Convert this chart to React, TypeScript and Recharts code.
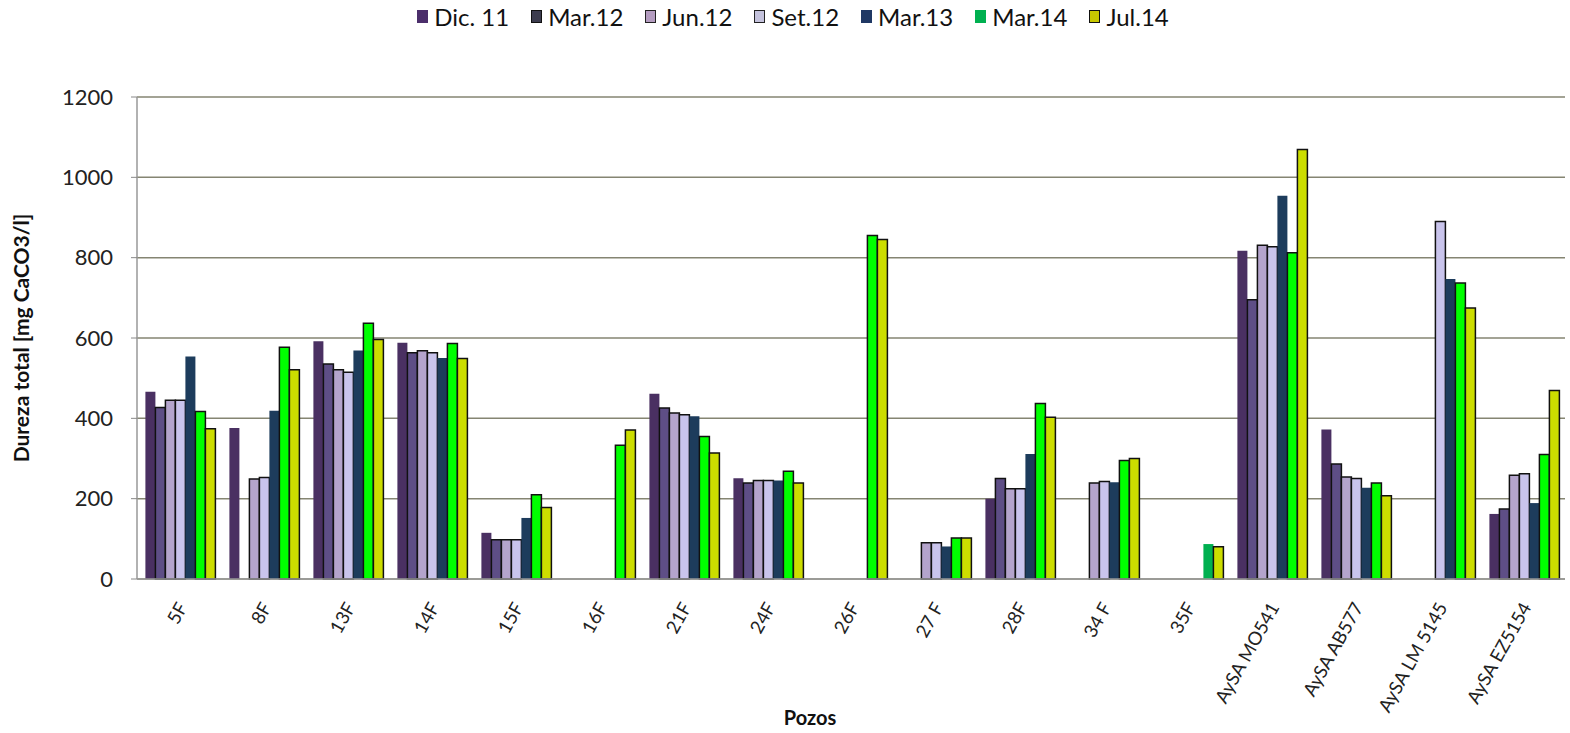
import React from 'react'
import { BarChart, Bar, XAxis, YAxis, CartesianGrid, Cell } from 'recharts'

// pozos
const categories = ['5F', '8F', '13F', '14F', '15F', '16F', '21F', '24F', '26F', '27 F', '28F', '34 F', '35F', 'AySA MO541', 'AySA AB577', 'AySA LM 5145', 'AySA EZ5154']

// dureza total por campaña (mg CaCO3/l), null = sin dato
const dic11 = [466, 376, 592, 588, 115, null, 461, 251, null, null, 200, null, null, 817, 372, null, 162]
const mar12 = [427, null, 535, 563, 98, null, 426, 239, null, null, 250, null, null, 695, 286, null, 174]
const jun12 = [445, 249, 521, 568, 98, null, 413, 245, null, 90, 225, 239, null, 831, 254, null, 258]
const set12 = [445, 253, 515, 563, 98, null, 409, 245, null, 90, 225, 243, null, 827, 250, 890, 262]
const mar13 = [554, 419, 569, 550, 152, null, 405, 245, null, 81, 311, 241, null, 954, 227, 747, 189]
const mar14 = [417, 577, 637, 586, 210, 333, 355, 268, 855, 102, 437, 295, 87, 812, 239, 737, 310]
const jul14 = [374, 521, 596, 549, 178, 371, 314, 239, 845, 102, 403, 300, 80, 1069, 207, 675, 469]

const yTicks = [0, 200, 400, 600, 800, 1000, 1200]

const series = [
  { key: 'dic11', name: 'Dic. 11', values: dic11, fill: '#4a3062', stroke: 'none', legendFill: '#4b2e6b', legendStroke: 'none' },
  { key: 'mar12', name: 'Mar.12', values: mar12, fill: '#5e4e86', stroke: '#111', legendFill: '#3c3c4e', legendStroke: '#111' },
  { key: 'jun12', name: 'Jun.12', values: jun12, fill: '#b4a4cc', stroke: '#111', legendFill: '#b49cc0', legendStroke: '#222' },
  { key: 'set12', name: 'Set.12', values: set12, fill: '#c9c4ec', stroke: '#111', legendFill: '#c4c2dc', legendStroke: '#222' },
  { key: 'mar13', name: 'Mar.13', values: mar13, fill: '#1d3c5c', stroke: 'none', legendFill: '#1f3864', legendStroke: 'none' },
  { key: 'mar14', name: 'Mar.14', values: mar14, fill: '#00ff00', stroke: '#111', legendFill: '#00b050', legendStroke: 'none' },
  { key: 'jul14', name: 'Jul.14', values: jul14, fill: '#ccdd00', stroke: '#111', legendFill: '#c8c800', legendStroke: '#111' },
]

const data = categories.map((name, i) => {
  const row: any = { name }
  series.forEach(s => { row[s.key] = s.values[i] })
  return row
})

const FONT = 'Lato, "Open Sans", sans-serif'

const XTick = (props: any) => {
  const { x, y, payload } = props
  return (
    <g transform={`translate(${x + 9},${y + 20})`}>
      <text x={0} y={0} textAnchor="end" transform="rotate(-61)" fill="#222" style={{ fontSize: 18.5, fontFamily: FONT }}>
        {payload.value}
      </text>
    </g>
  )
}

const YLabel = (props: any) => {
  const { viewBox } = props
  const cy = viewBox.y + viewBox.height / 2
  const x = 29
  return (
    <text x={x} y={cy} transform={`rotate(-90, ${x}, ${cy})`} textAnchor="middle" fill="#111" style={{ fontSize: 21, fontWeight: 'bold', fontFamily: FONT }}>
      Dureza total [mg CaCO3/l]
    </text>
  )
}

const XLabel = (props: any) => {
  const { viewBox } = props
  const cx = viewBox.x + viewBox.width / 2
  return (
    <text x={cx - 41} y={725} textAnchor="middle" fill="#111" style={{ fontSize: 20, fontWeight: 'bold', fontFamily: FONT }}>
      Pozos
    </text>
  )
}

const App = () => {
  return (
    <div style={{ position: 'absolute', left: 0, top: 0, width: 1570, height: 733, background: '#fff', fontFamily: FONT }}>
      <div style={{ position: 'absolute', top: 2, left: 8, width: 1570, display: 'flex', justifyContent: 'center', gap: 22, fontSize: 24, color: '#111' }}>
        {series.map(s => (
          <div key={s.key} style={{ display: 'flex', alignItems: 'center', gap: 6 }}>
            <span style={{ display: 'inline-block', width: 11, height: 13, background: s.legendFill, border: s.legendStroke === 'none' ? 'none' : `1.5px solid ${s.legendStroke}`, boxSizing: 'border-box' }} />
            <span>{s.name}</span>
          </div>
        ))}
      </div>
      <BarChart
        width={1570}
        height={733}
        data={data}
        margin={{ top: 97, right: 5, bottom: 0, left: 0 }}
        barCategoryGap="10%"
        barGap={0}
      >
        <CartesianGrid vertical={false} stroke="#858572" strokeWidth={1.5} />
        <XAxis
          dataKey="name"
          interval={0}
          tickLine={false}
          axisLine={{ stroke: '#999', strokeWidth: 1.5 }}
          tick={<XTick />}
          height={154}
          label={<XLabel />}
        />
        <XAxis xAxisId="top" orientation="top" dataKey="name" tick={false} tickLine={false} axisLine={{ stroke: '#222', strokeWidth: 2 }} height={0} />
        <YAxis
          domain={[0, 1200]}
          ticks={yTicks}
          interval={0}
          width={137}
          tickSize={6}
          tickMargin={18}
          tickLine={{ stroke: '#888' }}
          axisLine={{ stroke: '#999', strokeWidth: 1.5 }}
          tick={{ fill: '#222', fontSize: 22, fontFamily: FONT }}
          label={<YLabel />}
        />
        <YAxis yAxisId="right" orientation="right" domain={[0, 1200]} tick={false} tickLine={false} axisLine={{ stroke: '#222', strokeWidth: 1.5 }} width={0} />
        {series.map(s => (
          <Bar key={s.key} dataKey={s.key} name={s.name} fill={s.fill} stroke={s.stroke} strokeWidth={1.5} isAnimationActive={false}>
            {data.map((row, i) => {
              // 35F Mar.14 aparece con otro verde, sin borde
              const odd = s.key === 'mar14' && row.name === '35F'
              return <Cell key={`c-${i}`} fill={odd ? '#00b050' : s.fill} stroke={odd ? 'none' : s.stroke} />
            })}
          </Bar>
        ))}
      </BarChart>
    </div>
  )
}

export default App
